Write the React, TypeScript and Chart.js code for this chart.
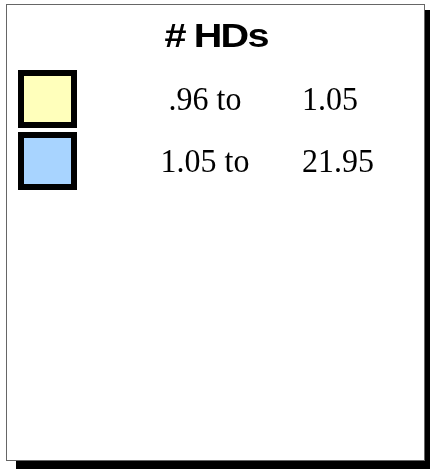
import React, { useEffect, useRef } from "react";
import { Chart, registerables } from "chart.js";

Chart.register(...registerables);

const titleText = "# HDs";
const rangeFrom = [".96 to", "1.05 to"];
const rangeTo = ["1.05", "21.95"];
const swatchColors = ["#FFFFBB", "#A8D4FF"];

const W = 430;
const H = 469;

function scaledText(ctx: any, text: string, x: number, y: number, sx: number, align: string, spacing = "0px") {
  ctx.save();
  ctx.translate(x, y);
  ctx.scale(sx, 1);
  ctx.textAlign = align;
  try { ctx.letterSpacing = spacing; } catch (e) {}
  ctx.fillText(text, 0, 0);
  ctx.restore();
}

const legendPlugin = {
  id: "binLegend",
  beforeDraw(chart: any) {
    const ctx = chart.ctx;
    ctx.save();
    ctx.fillStyle = "#ffffff";
    ctx.fillRect(0, 0, W, H);
    ctx.fillStyle = "#000000";
    ctx.fillRect(16, 10, W - 16, H - 10);
    ctx.fillStyle = "#ffffff";
    ctx.fillRect(6, 4, 419, 457);
    ctx.strokeStyle = "#666666";
    ctx.lineWidth = 1;
    ctx.strokeRect(6.5, 4.5, 418, 456);
    ctx.restore();
  },
  afterDraw(chart: any) {
    const ctx = chart.ctx;
    const labels = chart.data.labels as string[];
    const ds = chart.data.datasets[0];
    ctx.save();
    ctx.fillStyle = "#000000";
    ctx.textBaseline = "alphabetic";
    ctx.font = "bold 33px 'Liberation Sans'";
    scaledText(ctx, chart.options.plugins.title.text, 216, 47, 1.2, "center", "-1.5px");
    labels.forEach((lab: string, i: number) => {
      const top = 70 + i * 62;
      ctx.fillStyle = ds.backgroundColor[i];
      ctx.fillRect(18, top, 59, 58);
      ctx.strokeStyle = "#000000";
      ctx.lineWidth = 6;
      ctx.strokeRect(21, top + 3, 53, 52);
      ctx.fillStyle = "#000000";
      ctx.font = "34px 'Liberation Serif'";
      scaledText(ctx, lab, 205, top + 40, 0.94, "center");
      scaledText(ctx, ds.toLabels[i], 302, top + 40, 0.94, "left");
    });
    ctx.restore();
  },
};

function App() {
  const ref = useRef<HTMLCanvasElement | null>(null);
  useEffect(() => {
    if (!ref.current) return;
    const chart = new Chart(ref.current, {
      type: "bar",
      data: {
        labels: rangeFrom,
        datasets: [
          {
            data: [0, 0],
            backgroundColor: swatchColors,
            toLabels: rangeTo,
          } as any,
        ],
      },
      options: {
        animation: false,
        responsive: false,
        events: [],
        scales: { x: { display: false }, y: { display: false } },
        plugins: {
          legend: { display: false },
          tooltip: { enabled: false },
          title: { display: false, text: titleText },
        },
      },
      plugins: [legendPlugin],
    });
    return () => chart.destroy();
  }, []);
  return (
    <div style={{ position: "fixed", left: 0, top: 0, width: W, height: H }}>
      <canvas ref={ref} width={W} height={H} style={{ display: "block" }} />
    </div>
  );
}

export default App;
